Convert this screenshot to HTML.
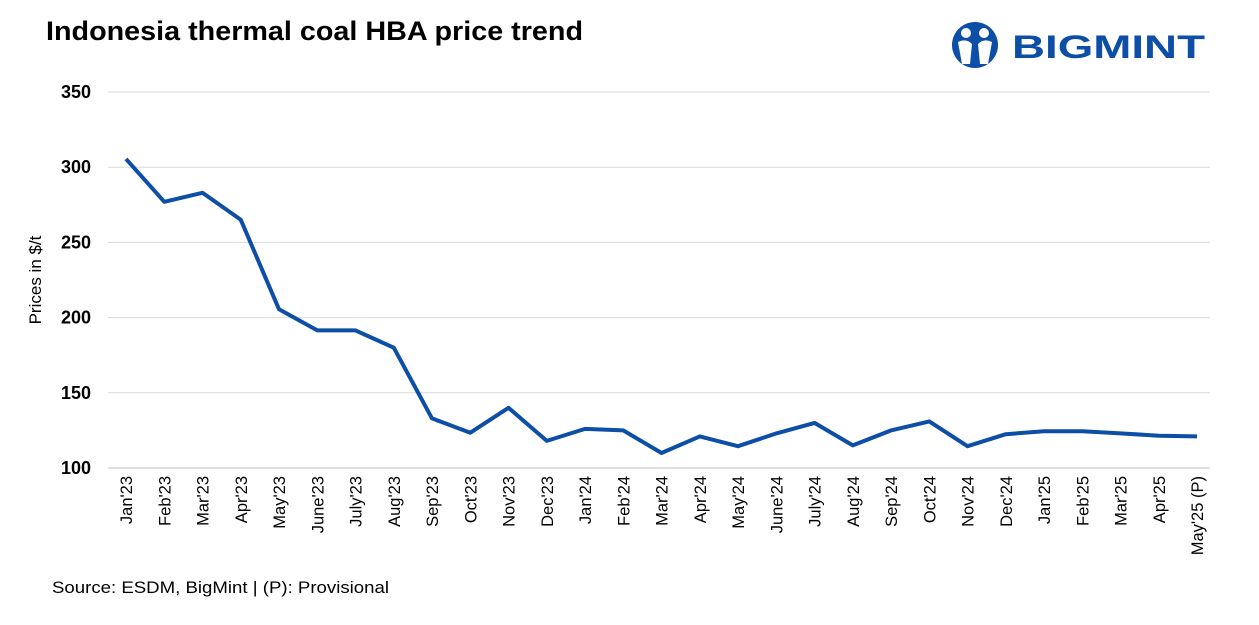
<!DOCTYPE html>
<html><head><meta charset="utf-8"><style>
body{margin:0;background:#fff;font-family:"Liberation Sans",Arial,sans-serif;}
svg{display:block}
</style></head><body>
<svg id="chart" width="1259" height="625">
<text x="46" y="40" font-size="27" font-weight="bold" fill="#000" textLength="537" lengthAdjust="spacingAndGlyphs">Indonesia thermal coal HBA price trend</text>
<g>
<circle cx="975" cy="45" r="23" fill="#0d4ea6"/>
<circle cx="966" cy="33" r="5" fill="#fff"/>
<circle cx="984" cy="33" r="5" fill="#fff"/>
<path d="M958 42 Q966 38 972 44 L970 64 L962 64 Z" fill="#fff"/>
<path d="M992 42 Q984 38 978 44 L980 64 L988 64 Z" fill="#fff"/>
<text x="1012" y="58" font-size="32" font-weight="bold" fill="#0d4ea6" textLength="193" lengthAdjust="spacingAndGlyphs">BIGMINT</text>
</g>
<g id="grid"></g><g id="yticks"></g><g id="xticks"></g>
<text transform="translate(41,280) rotate(-90)" text-anchor="middle" font-size="17" fill="#000">Prices in $/t</text>
<path id="line" fill="none" stroke="#0d4ea6" stroke-width="4" stroke-linejoin="round"/>
<text x="52" y="593" font-size="17" fill="#000" textLength="337" lengthAdjust="spacingAndGlyphs">Source: ESDM, BigMint | (P): Provisional</text>
</svg>
<script>
const categories=["Jan'23","Feb'23","Mar'23","Apr'23","May'23","June'23","July'23","Aug'23","Sep'23","Oct'23","Nov'23","Dec'23","Jan'24","Feb'24","Mar'24","Apr'24","May'24","June'24","July'24","Aug'24","Sep'24","Oct'24","Nov'24","Dec'24","Jan'25","Feb'25","Mar'25","Apr'25","May'25 (P)"];
const prices=[305.5,277,283,265,205.5,191.5,191.5,180,133,123.5,140,118,126,125,110,121,114.5,123,130,115,125,131,114.5,122.5,124.5,124.5,123,121.5,121];
const yTicks=[100,150,200,250,300,350];
const NS="http://www.w3.org/2000/svg";
const gx0=108,gx1=1210,yTop=92,yBot=468,yMin=100,yMax=350;
const firstX=126,lastX=1197;
const step=(lastX-firstX)/(categories.length-1);
const xs=i=>firstX+step*i;
const ys=v=>yBot-(v-yMin)/(yMax-yMin)*(yBot-yTop);
const grid=document.getElementById('grid'),yt=document.getElementById('yticks'),xt=document.getElementById('xticks');
yTicks.forEach(v=>{
 const l=document.createElementNS(NS,'line');
 l.setAttribute('x1',gx0);l.setAttribute('x2',gx1);l.setAttribute('y1',ys(v));l.setAttribute('y2',ys(v));
 l.setAttribute('stroke',v===yMin?'#bfbfbf':'#d9d9d9');l.setAttribute('stroke-width',1);
 
 
 grid.appendChild(l);
 const t=document.createElementNS(NS,'text');
 t.setAttribute('x',91);t.setAttribute('y',ys(v)+6);t.setAttribute('text-anchor','end');
 t.setAttribute('font-size','18');t.setAttribute('font-weight','bold');t.textContent=v;
 
 
 yt.appendChild(t);
});
categories.forEach((c,i)=>{
 const t=document.createElementNS(NS,'text');
 const x=xs(i)+6,y=476;
 t.setAttribute('transform',`translate(${x},${y}) rotate(-90)`);
 t.setAttribute('text-anchor','end');t.setAttribute('font-size','16.5');t.textContent=c;
 
 
 xt.appendChild(t);
});
document.getElementById('line').setAttribute('d',prices.map((v,i)=>(i?'L':'M')+xs(i).toFixed(1)+' '+ys(v).toFixed(1)).join(' '));
</script>
</body></html>
